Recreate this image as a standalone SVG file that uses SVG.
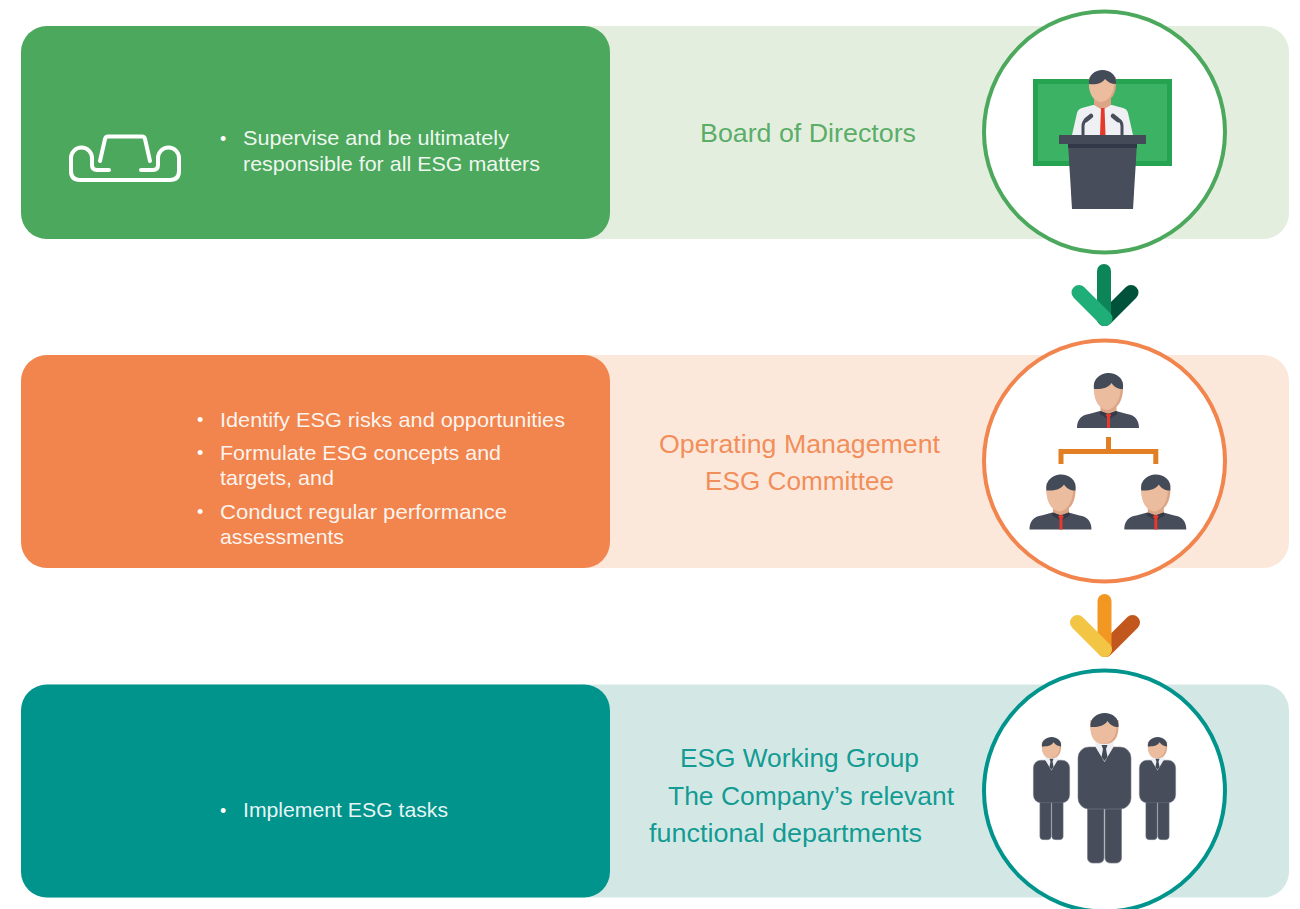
<svg xmlns="http://www.w3.org/2000/svg" width="1300" height="909" viewBox="0 0 1300 909">
<style>
text{font-family:"Liberation Sans",Arial,sans-serif}
.b{font-size:21px;fill:#fff;fill-opacity:.93}
.d{font-size:18px;fill:#fff}
.g{fill:#4ca85c}.o{fill:#f1854d}.t{fill:#00948c}
.l{font-size:26px;fill-opacity:.93}
.ring{fill:#fff;stroke-width:4}
.dark{fill:#474d5b}.hair{fill:#434a58}.skin{fill:#ecbc9f}.skin2{fill:#dca585}.red{fill:#e5392b}.shirt{fill:#eff0f3}
.mic{fill:none;stroke:#474d5b;stroke-width:3}.mich{fill:none;stroke:#474d5b;stroke-width:4.500;stroke-linecap:round}
</style>
<defs>
<g id="mgr">
<path class="skin2" d="M-8 3h16v11l-8 6-8-6z"/>
<path class="skin2" d="M-14.500-16V-9C-14.500 2-9 12 0 12S14.500 2 14.500-9V-16z"/>
<path class="skin" d="M-14.500-16V-9C-14.500 2-9 12-1 12 6 11 12 2 12-9V-16z"/>
<path class="hair" d="M-14.500-9C-16-20-7-25 0-25 8-25 16-20 14.500-9 9-9 6-11 3-15 0-10-7-8.500-14.500-9z"/>
<path class="dark" d="M-31.500 30c0-9 5-13 12-14l11-3 8 3 8-3 11 3c7 1 12 5 12 14z"/>
<path fill="#343a49" d="M-8 13l8 3 8-3 1 3-7 4h-4l-7-4z"/>
<path class="red" d="M-1.500 17h3v13h-3z"/><path class="red" d="M-3 17l3-2 3 2-1.500 2h-3z"/>
</g>
<g id="suit">
<rect class="dark" x="-17" y="60" width="16.500" height="64" rx="5" stroke="#7b808b" stroke-width=".7"/>
<rect class="dark" x=".5" y="60" width="16.500" height="64" rx="5" stroke="#7b808b" stroke-width=".7"/>
<rect class="dark" x="-26.500" y="8" width="53" height="62" rx="11" stroke="#7b808b" stroke-width=".6"/>
<path class="shirt" d="M-9 1h18v7L0 23-9 8z"/>
<path class="skin2" d="M-14-19V-12C-14-1-9 5 0 5S14-1 14-12V-19z"/>
<path class="skin" d="M-14-19V-12C-14-1-9 5-1 5 6 4 12-1 12-12V-19z"/>
<path class="hair" d="M-14-12C-15-21-7-26 0-26 8-26 15-21 14-12 9-12 6-14 3-18 0-13-7-11.500-14-12z"/>
<path class="hair" d="M-3 6h6l-1.500 4 1.500 8-3 4-3-4 1.500-8z"/>
</g>
</defs>
<g id="board">
<rect x="21" y="26" width="1268" height="213" rx="26" fill="#e3eedf"/>
<rect x="21" y="26" width="589" height="213" rx="26" class="g"/>
<path d="M100 161l5-22q.6-2.500 3-2.500h34q2.400 0 3 2.500l5 22M109 170H97q-5 0-5-5v-7a10.500 10.500 0 0 0-21 0v13q0 9 9 9h90q9 0 9-9v-13a10.500 10.500 0 0 0-21 0v7q0 5-5 5h-12" fill="none" stroke="#fff" stroke-width="4" stroke-linecap="round" stroke-linejoin="round"/>
<text class="d" x="220" y="144.700">•</text>
<text class="b" x="243" y="145" textLength="266" lengthAdjust="spacingAndGlyphs">Supervise and be ultimately</text>
<text class="b" x="243" y="171" textLength="297" lengthAdjust="spacingAndGlyphs">responsible for all ESG matters</text>
<text class="l g" x="700" y="142" textLength="216" lengthAdjust="spacingAndGlyphs">Board of Directors</text>
<circle class="ring" cx="1104.500" cy="132" r="120.500" stroke="#4ca85c"/>
<rect x="1033" y="79" width="139" height="87" fill="#25a350"/>
<rect x="1038" y="84" width="129" height="77" fill="#3cb265"/>
<path class="shirt" d="M1072 135l5-22q1-4 5-5l11-3h19l11 3q4 1 5 5l5 22z"/>
<path class="skin2" d="M1094 96h17v9l-8.500 5-8.500-5z"/>
<path class="skin2" d="M1089 77V84C1089 94 1094 102 1102.500 102S1116 94 1116 84V77z"/>
<path class="skin" d="M1089 77V84C1089 94 1094 102 1101.500 102 1108 101 1114 94 1114 84V77z"/>
<path class="hair" d="M1089 84C1088 75 1095 70 1102.500 70 1110 70 1117 75 1116 84 1111 84 1108 82 1105 79 1102 83.500 1096 85 1089 84z"/>
<path class="red" d="M1101 108h3.500l1 27h-5.500z"/>
<path class="mic" d="M1083 135v-9q0-4 3-6"/><path class="mich" d="M1086 120l5-4"/>
<path class="mic" d="M1122 135v-9q0-4-3-6"/><path class="mich" d="M1118 120l-5-4"/>
<path class="dark" d="M1068 143h69l-4 66h-61z"/>
<rect x="1059" y="135" width="87" height="9" fill="#454a58"/>
<rect x="1068" y="144" width="69" height="4" fill="#333848"/>
</g>
<g id="committee">
<rect x="21" y="355" width="1268" height="213" rx="26" fill="#fce8db"/>
<rect x="21" y="355" width="589" height="213" rx="26" class="o"/>
<text class="d" x="197" y="425.700">•</text><text class="b" x="220" y="427" textLength="345" lengthAdjust="spacingAndGlyphs">Identify ESG risks and opportunities</text>
<text class="d" x="197" y="458.700">•</text><text class="b" x="220" y="460" textLength="281" lengthAdjust="spacingAndGlyphs">Formulate ESG concepts and</text>
<text class="b" x="220" y="485" textLength="114" lengthAdjust="spacingAndGlyphs">targets, and</text>
<text class="d" x="197" y="518.400">•</text><text class="b" x="220" y="518.500" textLength="287" lengthAdjust="spacingAndGlyphs">Conduct regular performance</text>
<text class="b" x="220" y="543.500" textLength="124" lengthAdjust="spacingAndGlyphs">assessments</text>
<text class="l o" x="659" y="453" textLength="281" lengthAdjust="spacingAndGlyphs">Operating Management</text>
<text class="l o" x="705" y="490" textLength="189" lengthAdjust="spacingAndGlyphs">ESG Committee</text>
<circle class="ring" cx="1104.500" cy="461" r="120.500" stroke="#f1854d"/>
<use href="#mgr" x="1108.500" y="398"/>
<use href="#mgr" x="1061" y="499.500"/>
<use href="#mgr" x="1155.800" y="499.500"/>
<path d="M1108.500 437v15M1061 464v-12.500h94.800v12.500" fill="none" stroke="#e27e23" stroke-width="5"/>
</g>
<g id="working">
<rect x="21" y="684.500" width="1268" height="213" rx="26" fill="#d3e8e5"/>
<rect x="21" y="684.500" width="589" height="213" rx="26" class="t"/>
<text class="d" x="220" y="816.700">•</text><text class="b" x="243" y="817" textLength="205" lengthAdjust="spacingAndGlyphs">Implement ESG tasks</text>
<text class="l t" x="680" y="767" textLength="239" lengthAdjust="spacingAndGlyphs">ESG Working Group</text>
<text class="l t" x="668" y="805" textLength="286" lengthAdjust="spacingAndGlyphs">The Company’s relevant</text>
<text class="l t" x="649" y="842" textLength="273" lengthAdjust="spacingAndGlyphs">functional departments</text>
<circle class="ring" cx="1104.500" cy="791" r="120.500" stroke="#00948c"/>
<use href="#suit" transform="translate(1051.500 754.700) scale(.685)"/>
<use href="#suit" transform="translate(1157.500 754.700) scale(.685)"/>
<use href="#suit" transform="translate(1104.500 739)"/>
</g>
<g id="connectors">
<g fill="none" stroke-linecap="round">
<path d="M1131 292.500l-26 26" stroke="#00533a" stroke-width="15"/>
<path d="M1104 271v48" stroke="#0c8558" stroke-width="14"/>
<path d="M1079 292.500l26 26" stroke="#20ae78" stroke-width="15"/>
<path d="M1132.500 622.500l-27 27" stroke="#c2571d" stroke-width="15"/>
<path d="M1104.500 601v49" stroke="#f29722" stroke-width="14"/>
<path d="M1077.500 622.500l27 27" stroke="#f2c544" stroke-width="15"/>
</g>
</g>
</svg>
